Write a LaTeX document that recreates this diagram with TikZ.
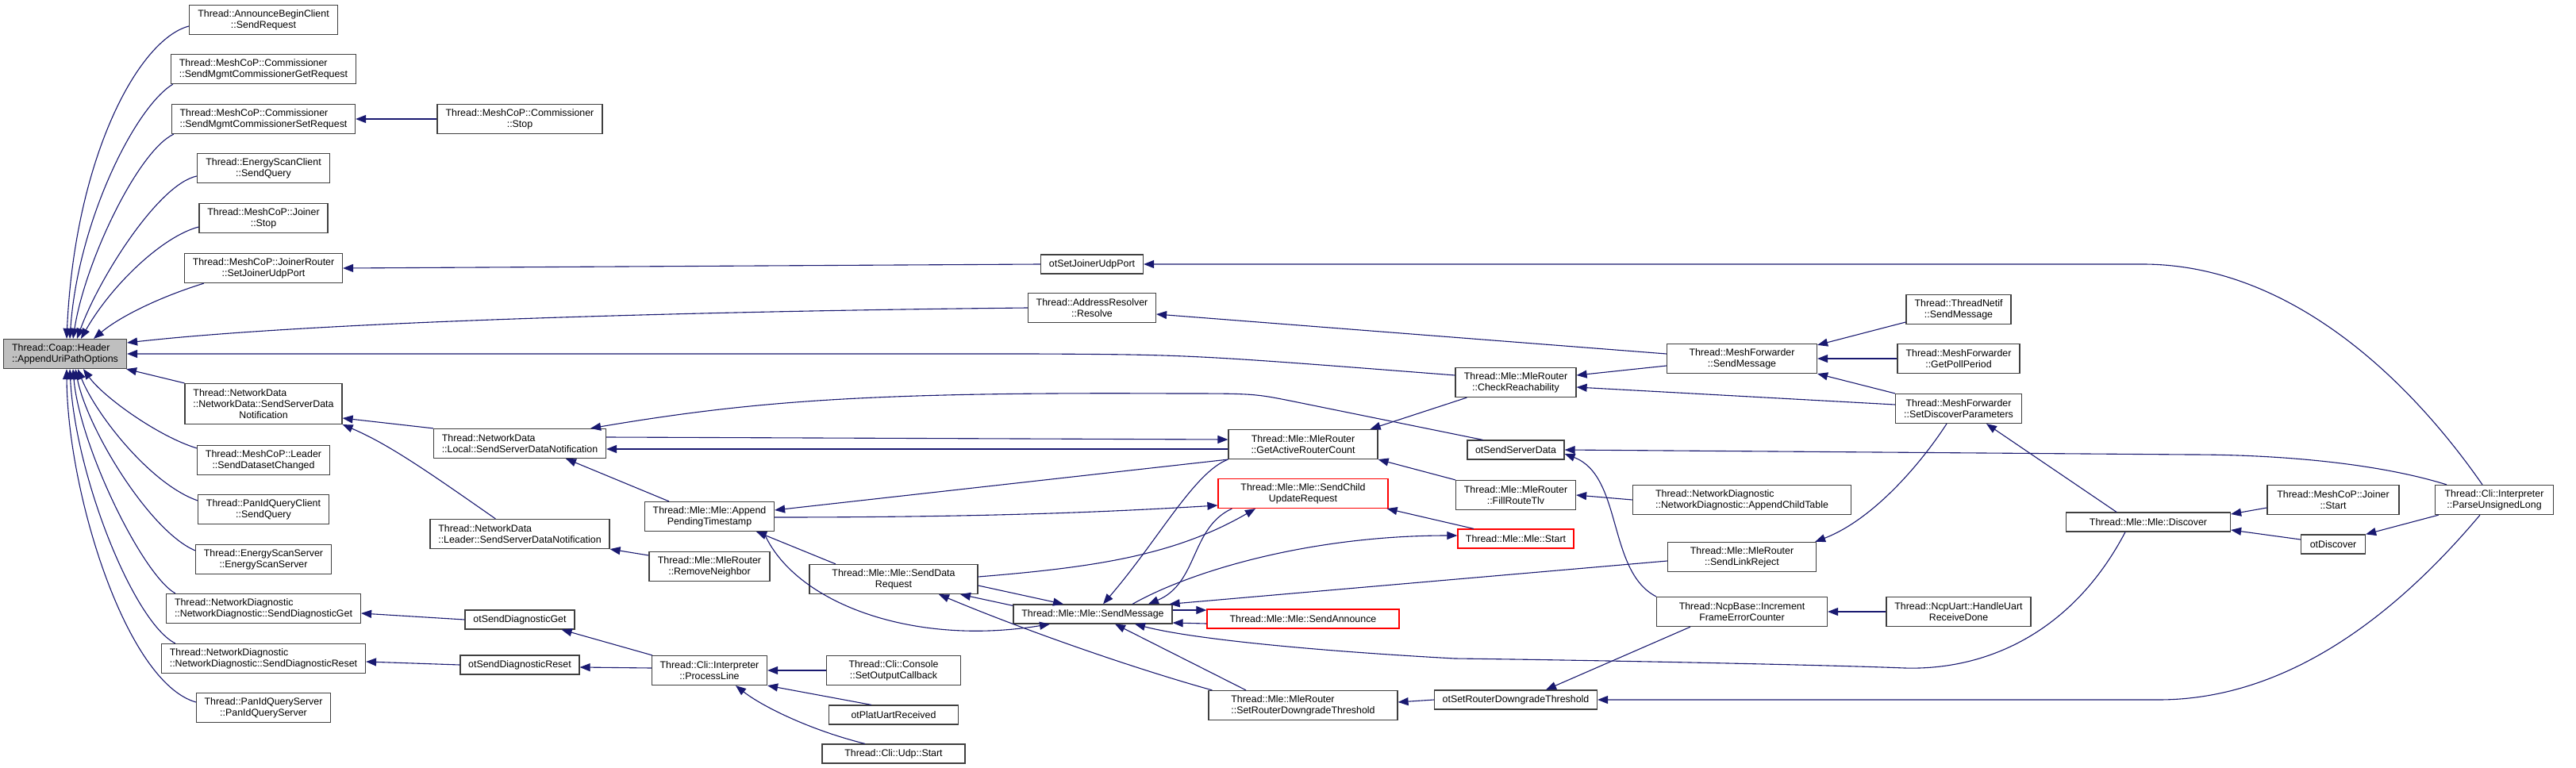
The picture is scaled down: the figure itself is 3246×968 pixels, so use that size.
\documentclass[tikz,border=0pt]{standalone}
\usepackage{fontspec}
\setmainfont{Liberation Sans}
\usetikzlibrary{arrows.meta}
\definecolor{edgeline}{HTML}{191970}
\definecolor{boxline}{HTML}{404040}
\definecolor{rootfill}{HTML}{BFBFBF}
\definecolor{redline}{HTML}{FF0000}
\tikzset{
  fnbox/.style  = {rectangle, draw=boxline, fill=white, line width=1.2pt, align=center,
                   inner sep=0pt, minimum height=37pt, font=\fontsize{12.4}{14}\selectfont},
  fnleft/.style = {fnbox, align=left},
  fnred/.style  = {fnbox, draw=redline},
  rootbox/.style= {fnleft, fill=rootfill},
  oneline/.style= {minimum height=24pt},
  call/.style   = {draw=edgeline, line width=1.1pt, -{Triangle[length=13pt, width=10pt]}},
}
\begin{document}
\begin{tikzpicture}[x=1pt, y=-1pt]
        \path[use as bounding box, fill=white] (0,0) rectangle (3246,968);

        \node[rootbox, minimum width=155pt] (root) at (82,446) {Thread::Coap::Header\\::AppendUriPathOptions};

        \node[fnbox,  minimum width=187pt] (annreq)  at (332,25)  {Thread::AnnounceBeginClient\\::SendRequest};
        \node[fnleft, minimum width=233pt] (comget)  at (332,87)  {Thread::MeshCoP::Commissioner\\::SendMgmtCommissionerGetRequest};
        \node[fnleft, minimum width=231pt] (comset)  at (332,150) {Thread::MeshCoP::Commissioner\\::SendMgmtCommissionerSetRequest};
        \node[fnbox,  minimum width=167pt] (escli)   at (332,212) {Thread::EnergyScanClient\\::SendQuery};
        \node[fnbox,  minimum width=162pt] (jstop)   at (332,275) {Thread::MeshCoP::Joiner\\::Stop};
        \node[fnbox,  minimum width=199pt] (jrport)  at (332,338) {Thread::MeshCoP::JoinerRouter\\::SetJoinerUdpPort};
        \node[fnbox,  minimum width=198pt, minimum height=51pt] (ndsend) at (332,509)
             {\rlap{Thread::NetworkData}\phantom{::NetworkData::SendServerData}\\::NetworkData::SendServerData\\Notification};
        \node[fnbox,  minimum width=167pt] (leadchg) at (332,580) {Thread::MeshCoP::Leader\\::SendDatasetChanged};
        \node[fnbox,  minimum width=165pt] (pqcli)   at (332,642) {Thread::PanIdQueryClient\\::SendQuery};
        \node[fnbox,  minimum width=171pt] (essrv)   at (332,705) {Thread::EnergyScanServer\\::EnergyScanServer};
        \node[fnleft, minimum width=245pt] (dget)    at (332,767) {Thread::NetworkDiagnostic\\::NetworkDiagnostic::SendDiagnosticGet};
        \node[fnleft, minimum width=257pt] (dreset)  at (332,830) {Thread::NetworkDiagnostic\\::NetworkDiagnostic::SendDiagnosticReset};
        \node[fnbox,  minimum width=169pt] (pqsrv)   at (332,892) {Thread::PanIdQueryServer\\::PanIdQueryServer};

        \node[fnbox,  minimum width=208pt] (comstop)   at (655,150) {Thread::MeshCoP::Commissioner\\::Stop};
        \node[fnleft, minimum width=217pt] (localsend) at (655,559) {Thread::NetworkData\\::Local::SendServerDataNotification};
        \node[fnleft, minimum width=226pt] (leadsend)  at (655,673) {Thread::NetworkData\\::Leader::SendServerDataNotification};
        \node[fnbox, oneline, minimum width=138pt] (otdget)   at (655,781) {otSendDiagnosticGet};
        \node[fnbox, oneline, minimum width=150pt] (otdreset) at (655,838) {otSendDiagnosticReset};

        \node[fnbox, minimum width=163pt] (apts)     at (894,651) {Thread::Mle::Mle::Append\\PendingTimestamp};
        \node[fnbox, minimum width=152pt] (rmnb)     at (894,714) {Thread::Mle::MleRouter\\::RemoveNeighbor};
        \node[fnbox, minimum width=145pt] (procline) at (894,845) {Thread::Cli::Interpreter\\::ProcessLine};

        \node[fnbox, minimum width=212pt] (sdreq)    at (1126,730) {Thread::Mle::Mle::SendData\\Request};
        \node[fnbox, minimum width=169pt] (setcb)    at (1126,845) {Thread::Cli::Console\\::SetOutputCallback};
        \node[fnbox, oneline, minimum width=163pt] (uartrx)   at (1126,901) {otPlatUartReceived};
        \node[fnbox, oneline, minimum width=180pt] (udpstart) at (1126,950) {Thread::Cli::Udp::Start};

        \node[fnbox, oneline, minimum width=129pt] (otjport) at (1376,333) {otSetJoinerUdpPort};
        \node[fnbox, minimum width=161pt] (resolve) at (1376,388) {Thread::AddressResolver\\::Resolve};
        \node[fnbox, oneline, minimum width=200pt] (sendmsg) at (1377,774) {Thread::Mle::Mle::SendMessage};

        \node[fnbox,  minimum width=188pt] (actcnt)   at (1642,560) {Thread::Mle::MleRouter\\::GetActiveRouterCount};
        \node[fnred,  minimum width=214pt] (childupd) at (1642,622) {Thread::Mle::Mle::SendChild\\UpdateRequest};
        \node[fnred, oneline, minimum width=242pt] (announce) at (1642,780) {Thread::Mle::Mle::SendAnnounce};
        \node[fnleft, minimum width=238pt] (downth)   at (1642,889) {Thread::Mle::MleRouter\\::SetRouterDowngradeThreshold};

        \node[fnbox, minimum width=152pt] (reach)     at (1910,482) {Thread::Mle::MleRouter\\::CheckReachability};
        \node[fnbox, oneline, minimum width=122pt] (otsrvdata) at (1910,567) {otSendServerData};
        \node[fnbox, minimum width=151pt] (fillroute) at (1910,624) {Thread::Mle::MleRouter\\::FillRouteTlv};
        \node[fnred, oneline, minimum width=146pt] (mlestart)  at (1910,679) {Thread::Mle::Mle::Start};
        \node[fnbox, oneline, minimum width=205pt] (otdownth)  at (1910,882) {otSetRouterDowngradeThreshold};

        \node[fnbox,  minimum width=189pt] (mfsend)   at (2195,452) {Thread::MeshForwarder\\::SendMessage};
        \node[fnleft, minimum width=275pt] (childtbl) at (2195,630) {Thread::NetworkDiagnostic\\::NetworkDiagnostic::AppendChildTable};
        \node[fnbox,  minimum width=187pt] (linkrej)  at (2195,702) {Thread::Mle::MleRouter\\::SendLinkReject};
        \node[fnbox,  minimum width=215pt] (frameerr) at (2195,771) {Thread::NcpBase::Increment\\FrameErrorCounter};

        \node[fnbox, minimum width=132pt] (netifsend) at (2468,390) {Thread::ThreadNetif\\::SendMessage};
        \node[fnbox, minimum width=154pt] (pollper)   at (2468,452) {Thread::MeshForwarder\\::GetPollPeriod};
        \node[fnbox, minimum width=159pt] (discpar)   at (2468,515) {Thread::MeshForwarder\\::SetDiscoverParameters};
        \node[fnbox, minimum width=182pt] (uartdone)  at (2468,771) {Thread::NcpUart::HandleUart\\ReceiveDone};

        \node[fnbox, oneline, minimum width=207pt] (discover) at (2707,658) {Thread::Mle::Mle::Discover};
        \node[fnbox, minimum width=166pt] (jstart) at (2940,630) {Thread::MeshCoP::Joiner\\::Start};
        \node[fnbox, oneline, minimum width=81pt] (otdisc) at (2940,686) {otDiscover};
        \node[fnbox, minimum width=149pt] (parseul) at (3143,630) {Thread::Cli::Interpreter\\::ParseUnsignedLong};

        \draw[call] ([yshift=-8pt]annreq.west) .. controls +(-64,17) and +(10,-227) .. ([xshift=2pt]root.north);
        \draw[call] ([xshift=3pt]comget.south west) .. controls +(-48,29) and +(10,-147) .. ([xshift=6pt]root.north);
        \draw[call] ([xshift=3pt]comset.south west) .. controls +(-45,21) and +(15,-97) .. ([xshift=10pt]root.north);
        \draw[call] ([yshift=-10pt]escli.west) .. controls +(-48,10) and +(28,-77) .. ([xshift=15pt]root.north);
        \draw[call] ([yshift=-11pt]jstop.west) .. controls +(-46,12) and +(38,-67) .. ([xshift=20pt]root.north);
        \draw[call] ([xshift=25pt]jrport.south west) .. controls +(-58,18) and +(32,-27) .. ([xshift=36pt]root.north);
        \draw[call] (resolve.west) .. controls (900,392) and (400,405) .. ([yshift=14pt]root.east);
        \draw[call] ([yshift=9pt]reach.west) .. controls (1500,447) .. (1300,446) -- (root.east);
        \draw[call] (ndsend.north west) -- ([xshift=-1pt]root.south east);
        \draw[call] ([yshift=-4pt]leadchg.north west) .. controls +(-49,-15) and +(25,35) .. ([xshift=23pt]root.south);
        \draw[call] ([yshift=-8pt]pqcli.north west) .. controls +(-60,-21) and +(22,56) .. ([xshift=16pt]root.south);
        \draw[call] ([yshift=-8pt]essrv.north west) .. controls +(-57,-24) and +(15,76) .. ([xshift=13pt]root.south);
        \draw[call] ([xshift=12pt]dget.north west) .. controls +(-42,-24) and +(8,96) .. ([xshift=10pt]root.south);
        \draw[call] ([xshift=18pt]dreset.north west) .. controls +(-52,-26) and +(7,136) .. ([xshift=6pt]root.south);
        \draw[call] ([yshift=7pt]pqsrv.west) .. controls +(-88,-25) and +(1,156) .. ([xshift=2pt]root.south);

        \draw[call] (comstop.west) -- (comset.east);
        \draw[call] (otjport.west) -- (jrport.east);
        \draw[call] ([xshift=-15pt]parseul.north) .. controls (3030,470) and (2880,333) .. (2700,333) -- (otjport.east);
        \draw[call] ([yshift=6pt]mfsend.west) -- ([yshift=-8pt]resolve.east);
        \draw[call] ([yshift=-16pt]netifsend.west) -- ([yshift=-2pt]mfsend.north east);
        \draw[call] (pollper.west) -- (mfsend.east);
        \draw[call] (discpar.north west) -- (mfsend.south east);
        \draw[call] ([yshift=-9pt]mfsend.west) -- ([yshift=9pt]reach.east);
        \draw[call] ([yshift=5pt]discpar.west) -- ([yshift=-6pt]reach.east);
        \draw[call] ([xshift=-40pt]discover.north) -- ([xshift=35pt]discpar.south);
        \draw[call] ([xshift=-15pt]discpar.south) .. controls (2420,585) and (2360,655) .. ([xshift=-2pt]linkrej.north east);
        \draw[call] ([xshift=-29pt]discover.south) .. controls (2610,800) and (2500,845) .. (2400,842)
                    .. controls (2300,838) and (2000,832) .. (1833,830)
                    .. controls (1650,820) and (1500,805) .. ([xshift=53pt]sendmsg.south);
        \draw[call] ([yshift=-10pt]jstart.west) -- ([yshift=10pt]discover.east);
        \draw[call] ([yshift=6pt]otdisc.west) -- ([yshift=-10pt]discover.east);
        \draw[call] ([xshift=5pt]parseul.south west) -- (otdisc.north east);
        \draw[call] ([xshift=-60pt]parseul.north) .. controls (3000,585) and (2880,573) .. (2760,573) -- (otsrvdata.east);
        \draw[call] ([xshift=-18pt]parseul.south) .. controls (3040,750) and (2900,882) .. (2720,882) -- (otdownth.east);

        \draw[call] (frameerr.north west) .. controls (2025,720) and (2045,600) .. ([yshift=-5pt]otsrvdata.east);
        \draw[call] (uartdone.west) -- (frameerr.east);
        \draw[call] ([xshift=-65pt]frameerr.south) -- ([xshift=38pt]otdownth.north);
        \draw[call] (otdownth.west) -- ([yshift=4pt]downth.east);
        \draw[call] (childtbl.west) -- (fillroute.east);
        \draw[call] (fillroute.north west) -- (actcnt.south east);
        \draw[call] ([xshift=15pt]reach.south west) -- ([xshift=-10pt]actcnt.north east);
        \draw[call] ([xshift=20pt]otsrvdata.north west) -- (1630,506) .. controls (1580,496) .. (1480,496)
                    .. controls (1100,494) and (950,505) .. ([xshift=-20pt]localsend.north east);
        \draw[call] ([yshift=8pt]localsend.east) -- ([yshift=6pt]actcnt.west);
        \draw[call] ([yshift=-6pt]actcnt.west) -- ([yshift=-7pt]localsend.east);
        \draw[call] (localsend.north west) -- ([yshift=-18pt]ndsend.east);
        \draw[call] ([xshift=83pt]leadsend.north west) .. controls (540,595) and (490,560) .. (ndsend.south east);
        \draw[call] ([xshift=-51pt]apts.north) -- ([xshift=58pt]localsend.south);
        \draw[call] ([yshift=14pt]rmnb.west) -- (leadsend.south east);
        \draw[call] (actcnt.south west) -- ([yshift=8pt]apts.east);
        \draw[call] ([yshift=-1pt]apts.east) .. controls (1250,652) and (1400,645) .. ([yshift=-15pt]childupd.west);
        \draw[call] ([xshift=-73pt]sdreq.north) -- ([xshift=59pt]apts.south);
        \draw[call] ([xshift=68pt]apts.south) .. controls (1000,760) and (1150,815) .. ([xshift=-54pt]sendmsg.south);
        \draw[call] ([yshift=3pt]sdreq.east) .. controls (1380,715) and (1480,700) .. ([xshift=-60pt]childupd.south);
        \draw[call] ([yshift=-8pt]sdreq.east) -- ([xshift=-37pt]sendmsg.north);
        \draw[call] ([yshift=-2pt]sendmsg.north west) -- ([xshift=84pt]sdreq.south);
        \draw[call] ([xshift=5pt]downth.north west) .. controls (1420,840) and (1280,790) .. ([xshift=57pt]sdreq.south);
        \draw[call] (actcnt.south west) .. controls (1505,595) and (1460,680) .. ([xshift=13pt]sendmsg.north);
        \draw[call] ([xshift=18pt]childupd.south west) .. controls (1500,665) and (1510,735) .. ([xshift=70pt]sendmsg.north);
        \draw[call] ([xshift=50pt]sendmsg.north) .. controls (1500,720) and (1650,675) .. ([yshift=4pt]mlestart.west);
        \draw[call] ([xshift=-53pt]mlestart.north) -- ([xshift=-2pt]childupd.south east);
        \draw[call] ([yshift=-5pt]linkrej.west) -- ([xshift=-4pt]sendmsg.north east);
        \draw[call] ([yshift=5pt]sendmsg.east) -- ([yshift=11pt]announce.west);
        \draw[call] ([yshift=-6pt]announce.west) -- ([yshift=-11pt]sendmsg.east);
        \draw[call] ([xshift=-72pt]downth.north) -- ([xshift=28pt]sendmsg.south);

        \draw[call] ([xshift=1pt]procline.north west) -- ([xshift=-17pt]otdget.south east);
        \draw[call] ([yshift=3pt]procline.west) -- ([yshift=-3pt]otdreset.east);
        \draw[call] (otdget.west) -- ([yshift=-6pt]dget.east);
        \draw[call] (otdreset.west) -- ([yshift=-4pt]dreset.east);
        \draw[call] (setcb.west) -- (procline.east);
        \draw[call] ([xshift=-28pt]uartrx.north) -- (procline.south east);
        \draw[call] ([xshift=-36pt]udpstart.north) .. controls (1020,920) and (960,890) .. ([xshift=33pt]procline.south);
    \end{tikzpicture}
\end{document}
